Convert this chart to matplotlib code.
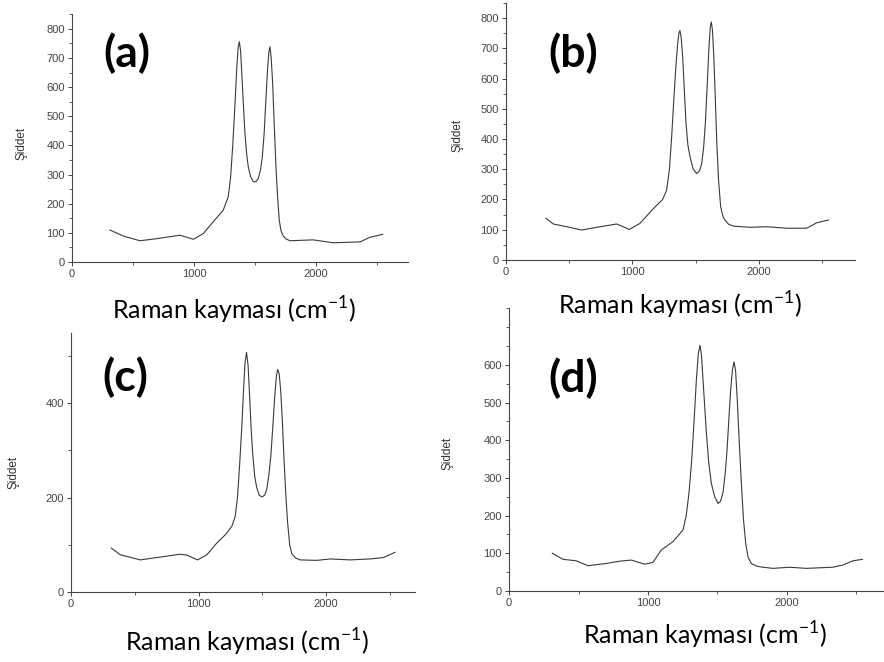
import matplotlib
matplotlib.use('Agg')
import matplotlib.pyplot as plt
from matplotlib.ticker import MultipleLocator, FixedLocator

plt.rcParams['mathtext.fontset'] = 'custom'
plt.rcParams['mathtext.rm'] = 'Lato'

# Raman spectra (shift in cm-1, intensity)
shift_a = [311, 421, 557, 694, 885, 995, 1077, 1158, 1240, 1281, 1300, 1318, 1336, 1350,
           1362, 1372, 1382, 1393, 1405, 1418, 1432, 1445, 1465, 1486, 1507, 1527, 1545,
           1560, 1575, 1590, 1603, 1614, 1623, 1633, 1645, 1658, 1672, 1686, 1699, 1713,
           1727, 1750, 1787, 1978, 2142, 2361, 2443, 2546]
int_a = [110, 89, 73, 80, 92, 78, 98, 138, 178, 224, 290, 400, 540, 660,
         735, 756, 725, 640, 540, 442, 370, 327, 292, 276, 275, 287, 315,
         360, 440, 560, 660, 720, 739, 700, 613, 470, 327, 220, 144, 108,
         93, 80, 73, 76, 66, 69, 85, 95]

shift_b = [316, 374, 480, 598, 717, 875, 975, 1059, 1165, 1238, 1270, 1292, 1310, 1328,
           1343, 1356, 1366, 1375, 1385, 1397, 1410, 1423, 1438, 1455, 1480, 1507, 1530,
           1547, 1562, 1577, 1592, 1604, 1615, 1623, 1632, 1643, 1655, 1667, 1681, 1697,
           1714, 1731, 1760, 1797, 1929, 2061, 2219, 2377, 2456, 2548]
int_b = [138, 119, 110, 99, 108, 119, 101, 121, 170, 200, 231, 300, 410, 540,
         640, 710, 748, 759, 735, 670, 560, 451, 380, 341, 300, 286, 295,
         318, 370, 460, 590, 700, 770, 787, 760, 670, 530, 380, 260, 176,
         145, 132, 118, 112, 108, 110, 105, 105, 123, 132]

shift_c = [316, 386, 543, 726, 856, 909, 992, 1065, 1144, 1209, 1261, 1287, 1305, 1322,
           1339, 1352, 1364, 1376, 1388, 1400, 1412, 1425, 1440, 1455, 1475, 1496, 1518,
           1535, 1552, 1567, 1582, 1596, 1609, 1620, 1632, 1644, 1657, 1670, 1684, 1697,
           1714, 1731, 1760, 1796, 1927, 2031, 2188, 2345, 2449, 2540]
int_c = [93, 79, 68, 75, 80, 78, 68, 79, 104, 121, 139, 160, 200, 270,
         350, 425, 485, 507, 480, 415, 345, 290, 245, 222, 205, 201, 205,
         218, 250, 290, 350, 410, 455, 471, 462, 425, 360, 280, 205, 150,
         100, 81, 72, 68, 67, 70, 68, 70, 73, 84]

shift_d = [312, 388, 484, 568, 700, 796, 880, 976, 1036, 1096, 1180, 1252, 1275, 1295,
           1315, 1333, 1348, 1362, 1374, 1385, 1396, 1408, 1420, 1437, 1456, 1480, 1504,
           1522, 1540, 1555, 1568, 1581, 1594, 1607, 1619, 1630, 1642, 1656, 1671, 1687,
           1703, 1720, 1743, 1780, 1827, 1899, 2019, 2139, 2331, 2403, 2475, 2542]
int_d = [100, 84, 80, 67, 73, 79, 82, 71, 76, 109, 131, 162, 200, 260,
         350, 460, 560, 630, 652, 625, 560, 490, 420, 340, 285, 250, 232,
         238, 262, 310, 370, 450, 530, 585, 608, 585, 510, 400, 290, 190,
         126, 90, 73, 66, 63, 60, 63, 60, 63, 69, 80, 84]

panel_labels = ['(a)', '(b)', '(c)', '(d)']
xlabel = 'Raman kayması (cm$^{\\mathrm{-1}}$)'
ylabel = 'Şiddet'

panels = [
    # data, axes rect, xlim, ylim, y major step, y minor step, highest label,
    # tag pos, xlabel pos, ylabel pos (pixels)
    (shift_a, int_a, [0.0814, 0.6042, 0.3801, 0.3746], 2754, 851, 100, 50, 800,
     (127, 53), (234, 310), (21, 143)),
    (shift_b, int_b, [0.5724, 0.6073, 0.3948, 0.3882], 2759, 850, 100, 50, 800,
     (573, 53), (680, 305), (457, 135)),
    (shift_c, int_c, [0.0803, 0.1057, 0.3891, 0.3912], 2696, 548, 200, 100, 400,
     (125, 377), (247, 642), (13, 472)),
    (shift_d, int_d, [0.5758, 0.1073, 0.4242, 0.4275], 2698, 751, 100, 50, 600,
     (573, 378), (705, 635), (448, 453)),
]

W, H = 884, 662
fig = plt.figure(figsize=(W / 100, H / 100), dpi=100)

for i, (xs, ys, rect, xmax, ymax, ymaj, ymin, ytop, tag, xl, yl) in enumerate(panels):
    ax = fig.add_axes(rect)
    ax.plot(xs, ys, color='#3a3a3a', lw=0.8)
    ax.set_xlim(0, xmax)
    ax.set_ylim(0, ymax)
    ax.xaxis.set_major_locator(MultipleLocator(1000))
    ax.xaxis.set_minor_locator(MultipleLocator(500))
    ax.yaxis.set_major_locator(FixedLocator(list(range(0, ytop + 1, ymaj))))
    ax.yaxis.set_minor_locator(MultipleLocator(ymin))
    for s in ['top', 'right']:
        ax.spines[s].set_visible(False)
    for s in ['left', 'bottom']:
        ax.spines[s].set_color('#444444')
        ax.spines[s].set_linewidth(0.8)
    ax.tick_params(which='major', length=3, width=0.7, color='#444444',
                   labelsize=8, labelcolor='#444444', pad=2)
    ax.tick_params(which='minor', length=2, width=0.6, color='#444444')
    for lab in ax.get_xticklabels() + ax.get_yticklabels():
        lab.set_fontfamily('Liberation Sans')

    fig.text(tag[0] / W, 1 - tag[1] / H, panel_labels[i], fontsize=32,
             fontweight='bold', family='Lato', ha='center', va='center')
    fig.text(xl[0] / W, 1 - xl[1] / H, xlabel, fontsize=18, family='Lato',
             ha='center', va='center')
    fig.text(yl[0] / W, 1 - yl[1] / H, ylabel, fontsize=8.5, rotation=90,
             family='Liberation Sans', color='#333333', ha='center', va='center')

fig.savefig('out.png', dpi=100)
